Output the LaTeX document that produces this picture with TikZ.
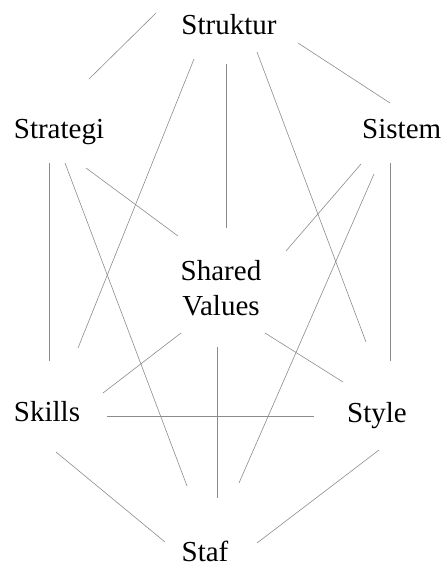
\documentclass[tikz,border=0pt]{standalone}
\usepackage{fontspec}
\setmainfont{Liberation Serif}
\begin{document}
\begin{tikzpicture}[x=1pt,y=-1pt,
  lbl/.style={inner sep=0pt,font=\fontsize{29}{35}\selectfont},
  link/.style={draw=black!45,line width=0.6pt}]
\useasboundingbox (0,0) rectangle (443,565);
% labels
\node[lbl,anchor=base] (struktur) at (229,34.5) {Struktur};
\node[lbl,anchor=base] (strategi) at (59,138.3) {Strategi};
\node[lbl,anchor=base] (sistem) at (401.7,138.3) {Sistem};
\node[lbl,anchor=center,align=center] (shared) at (221,288) {Shared\\Values};
\node[lbl,anchor=base] (skills) at (47,421.7) {Skills};
\node[lbl,anchor=base] (style) at (377,422) {Style};
\node[lbl,anchor=base] (staf) at (205,561) {Staf};
% connector end points
\coordinate (a1) at (156,13);   \coordinate (a2) at (89,79);
\coordinate (b1) at (194,59);   \coordinate (b2) at (78,348);
\coordinate (c1) at (226,64);   \coordinate (c2) at (226,228);
\coordinate (d1) at (257,52);   \coordinate (d2) at (366,342);
\coordinate (e1) at (298,43);   \coordinate (e2) at (390,103);
\coordinate (f1) at (49,163);   \coordinate (f2) at (49,361);
\coordinate (g1) at (65,163);   \coordinate (g2) at (187,486);
\coordinate (h1) at (86,168);   \coordinate (h2) at (178,236);
\coordinate (i1) at (361,164);  \coordinate (i2) at (286,251);
\coordinate (j1) at (374,174);  \coordinate (j2) at (239,483);
\coordinate (k1) at (390,163);  \coordinate (k2) at (390,361);
\coordinate (l1) at (181,333);  \coordinate (l2) at (103,393);
\coordinate (m1) at (217,347);  \coordinate (m2) at (217,498);
\coordinate (n1) at (265,333);  \coordinate (n2) at (343,382);
\coordinate (o1) at (107,416);  \coordinate (o2) at (314,416);
\coordinate (p1) at (56,452);   \coordinate (p2) at (165,542);
\coordinate (q1) at (379,450);  \coordinate (q2) at (257,543);
% connectors
\foreach \s in {a,b,c,d,e,f,g,h,i,j,k,l,m,n,o,p,q}
  \draw[link] (\s1) -- (\s2);
\end{tikzpicture}
\end{document}
